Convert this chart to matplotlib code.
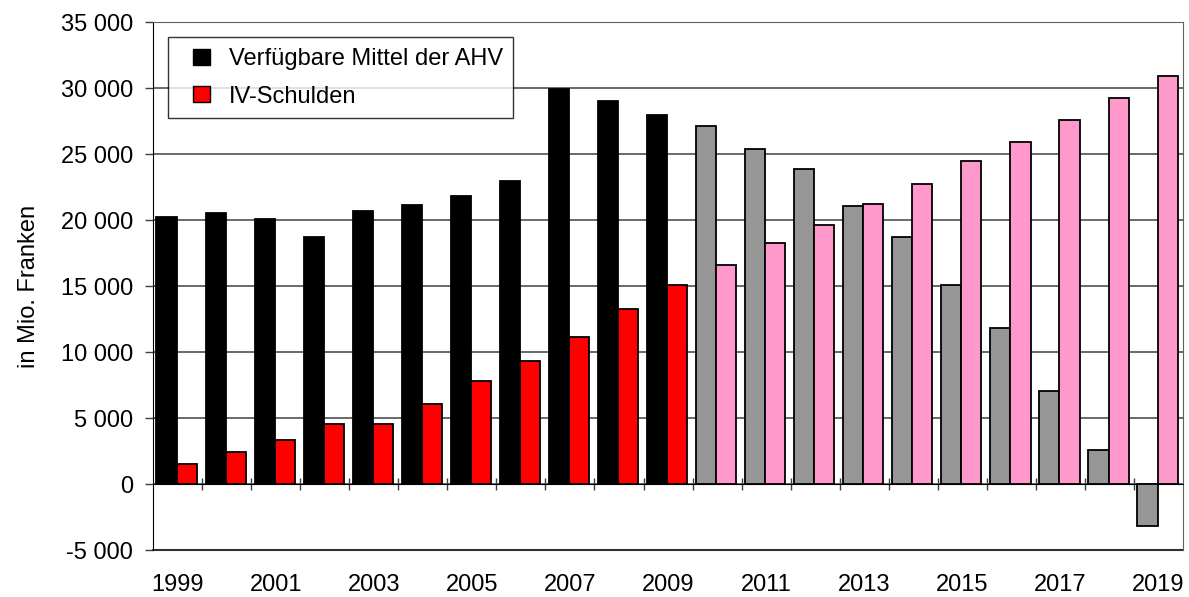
import matplotlib
matplotlib.use("Agg")
import matplotlib.pyplot as plt
from matplotlib.patches import Patch, Rectangle
from matplotlib.legend_handler import HandlerPatch
from matplotlib.ticker import FuncFormatter

plt.rcParams['font.family'] = ['Liberation Sans', 'DejaVu Sans']

years = list(range(1999, 2020))
# Verfuegbare Mittel der AHV (Mio. Fr.)
ahv = [20250, 20550, 20100, 18750, 20700, 21150, 21800, 22950, 29900, 29000, 27950,
       27100, 25350, 23850, 21100, 18700, 15050, 11800, 7050, 2550, -3150]
# IV-Schulden (Mio. Fr.)
iv = [1500, 2450, 3350, 4550, 4550, 6050, 7800, 9300, 11150, 13250, 15100,
      16600, 18250, 19650, 21250, 22750, 24450, 25950, 27600, 29250, 30900]
first_forecast = 2010

ahv_col = ['#000000' if y < first_forecast else '#969696' for y in years]
iv_col = ['#FF0000' if y < first_forecast else '#FF99CC' for y in years]

fig = plt.figure(figsize=(11.89, 5.97), dpi=100)
ax = fig.add_axes([0.1287, 0.0787, 0.8663, 0.8843])

x = list(range(len(years)))
w = 0.41
ax.bar([i - w / 2 - 0.02 for i in x], ahv, w, color=ahv_col, edgecolor='#000000', linewidth=1.3, zorder=3)
ax.bar([i + w / 2 - 0.02 for i in x], iv, w, color=iv_col, edgecolor='#000000', linewidth=1.3, zorder=3)

ax.set_xlim(-0.5, len(years) - 0.5)
ax.set_ylim(-5000, 35000)
ax.set_yticks(range(-5000, 35001, 5000))
ax.yaxis.set_major_formatter(FuncFormatter(lambda v, p: f"{int(v):,}".replace(",", " ")))
ax.yaxis.grid(True, color='#404040', linewidth=1.1)
ax.set_axisbelow(True)
ax.axhline(-5000, color='#303030', linewidth=1.5, clip_on=False, zorder=1)

# x axis at zero, ticks at category boundaries
ax.spines['bottom'].set_position(('data', 0))
ax.spines['bottom'].set_color('#000000')
ax.set_xticks([i - 0.5 for i in x[1:]])
ax.set_xticklabels([])
ax.tick_params(axis='x', direction='inout', length=9, width=1, color='#404040')
ax.tick_params(axis='y', direction='out', length=5.5, width=1, color='#404040', labelsize=17, pad=9)
for s in ['top', 'right']:
    ax.spines[s].set_color('#606060')
ax.spines['left'].set_color('#000000')

for i, y in enumerate(years):
    if y % 2 == 1:
        ax.text(i, -0.066, str(y), transform=ax.get_xaxis_transform(),
                ha='center', va='center', fontsize=17)

ax.set_ylabel('in Mio. Franken', fontsize=17)
ax.yaxis.set_label_coords(-0.11, 0.5)


def square(legend, orig_handle, xdescent, ydescent, width, height, fontsize):
    return Rectangle((-xdescent + width - height, -ydescent), height, height)


handles = [Patch(facecolor='#000000', edgecolor='#000000', label='Verfügbare Mittel der AHV'),
           Patch(facecolor='#FF0000', edgecolor='#000000', label='IV-Schulden')]
leg = ax.legend(handles=handles, loc='upper left', bbox_to_anchor=(0.0146, 0.9716),
                fontsize=17, frameon=True, fancybox=False, edgecolor='#000000',
                handlelength=1.3, handleheight=0.68, handletextpad=0.8,
                borderpad=0.46, labelspacing=0.66, borderaxespad=0,
                handler_map={Patch: HandlerPatch(patch_func=square)})
leg.get_frame().set_linewidth(1)
leg.set_zorder(5)

fig.savefig('out.png', dpi=100)
